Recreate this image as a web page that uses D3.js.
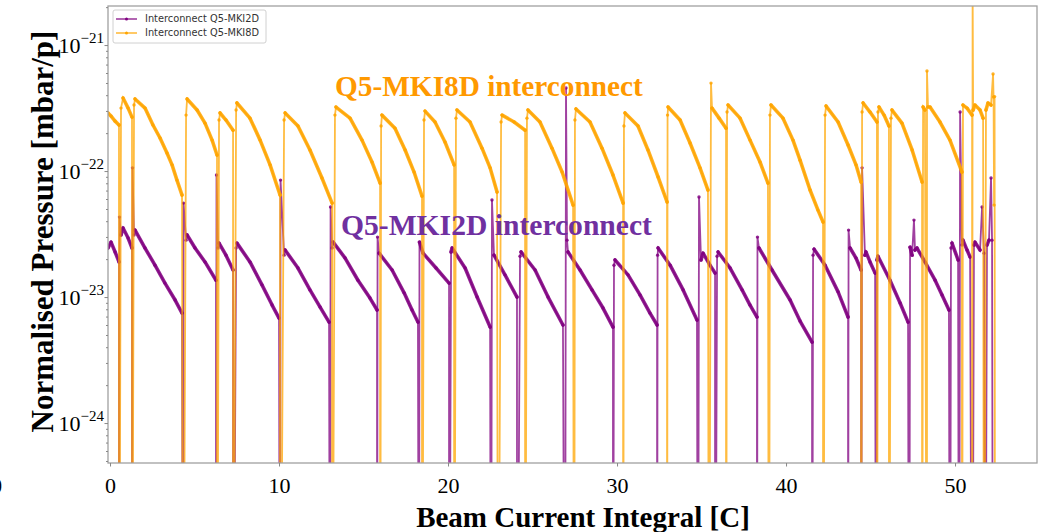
<!DOCTYPE html>
<html><head><meta charset="utf-8">
<script src="https://cdn.jsdelivr.net/npm/d3@7"></script>
<style>body{margin:0;background:#fff} svg{display:block}</style>
</head><body>
<svg id="c" width="1038" height="532"></svg>
<script>
// ---- data (x = beam current integral [C], y = normalised pressure [mbar/p]; 0 = no reading / beam dump) ----
const xTickValues = [0, 10, 20, 30, 40, 50];
const yTickExponents = [-21, -22, -23, -24];
const seriesNames = ["Interconnect Q5-MKI2D", "Interconnect Q5-MKI8D"];
const annotationNames = ["Q5-MKI8D interconnect", "Q5-MKI2D interconnect"];

const mki8d = [
 [-0.12,2.89e-22],[0.06,2.73e-22],[0.30,2.49e-22],[0.53,2.32e-22],[0.53,0],
 [0.65,3.16e-22],[0.77,3.80e-22],[1.07,3.16e-22],[1.30,2.68e-22],[1.30,0],
 [1.42,3.34e-22],[1.48,3.73e-22],[2.07,3.16e-22],[2.54,2.32e-22],[2.96,1.83e-22],[3.37,1.39e-22],[3.67,1.12e-22],[3.96,8.48e-23],[4.26,6.45e-23],[4.32,0],
 [4.50,2.78e-22],[4.56,3.73e-22],[5.15,3.05e-22],[5.62,2.40e-22],[6.04,1.76e-22],[6.33,1.34e-22],[6.33,0],
 [6.45,2.54e-22],[6.51,2.89e-22],[6.86,2.54e-22],[7.28,2.11e-22],[7.28,0],
 [7.46,3.05e-22],[7.51,3.47e-22],[8.28,2.63e-22],[8.88,1.76e-22],[9.47,1.12e-22],[10.06,6.45e-23],[10.06,0],
 [10.30,2.54e-22],[10.36,2.89e-22],[11.12,2.28e-22],[11.83,1.47e-22],[12.54,8.80e-23],[13.14,5.57e-23],[13.14,0],
 [13.31,2.78e-22],[13.37,3.22e-22],[14.20,2.63e-22],[14.91,1.76e-22],[15.50,1.18e-22],[15.98,8.03e-23],[15.98,0],
 [16.04,2.28e-22],[16.09,2.78e-22],[16.86,2.19e-22],[17.46,1.47e-22],[17.99,9.82e-23],[18.46,6.33e-23],[18.46,0],
 [18.58,2.54e-22],[18.64,2.99e-22],[19.23,2.45e-22],[19.82,1.70e-22],[20.36,1.12e-22],[20.36,0],
 [20.47,2.63e-22],[20.53,3.05e-22],[21.30,2.45e-22],[22.01,1.52e-22],[22.49,1.06e-22],[22.90,6.81e-23],[22.96,0],
 [23.14,2.45e-22],[23.20,2.78e-22],[23.91,2.45e-22],[24.56,2.11e-22],[24.56,0],
 [24.67,2.63e-22],[24.73,3.05e-22],[25.44,2.45e-22],[26.15,1.52e-22],[26.75,9.82e-23],[27.40,5.37e-23],[27.46,0],
 [27.51,2.54e-22],[27.57,3.11e-22],[28.40,2.45e-22],[29.11,1.52e-22],[29.76,9.30e-23],[30.36,5.57e-23],[30.36,0],
 [30.41,2.28e-22],[30.47,2.89e-22],[31.24,2.28e-22],[31.83,1.47e-22],[32.43,8.97e-23],[32.96,5.68e-23],[32.96,0],
 [32.99,2.78e-22],[33.02,3.22e-22],[33.73,2.54e-22],[34.32,1.67e-22],[34.91,1.06e-22],[35.38,7.07e-23],[35.44,0],
 [35.56,4.99e-22],[35.62,3.16e-22],[36.04,2.63e-22],[36.45,2.19e-22],[36.45,0],
 [36.51,2.94e-22],[36.57,3.34e-22],[37.28,2.63e-22],[37.87,1.76e-22],[38.46,1.18e-22],[38.93,8.03e-23],[38.99,0],
 [39.05,2.78e-22],[39.11,3.34e-22],[39.82,2.63e-22],[40.41,1.76e-22],[40.83,1.22e-22],[41.42,7.07e-23],[41.89,4.90e-23],[42.19,3.94e-23],[42.19,0],
 [42.31,2.78e-22],[42.37,3.28e-22],[43.08,2.45e-22],[43.67,1.61e-22],[44.14,1.12e-22],[44.44,8.18e-23],[44.44,0],
 [44.50,2.94e-22],[44.56,3.47e-22],[44.97,2.94e-22],[45.38,2.45e-22],[45.38,0],
 [45.44,2.94e-22],[45.50,3.22e-22],[45.80,2.78e-22],[46.09,2.28e-22],[46.09,0],
 [46.21,2.63e-22],[46.27,3.05e-22],[46.86,2.40e-22],[47.46,1.47e-22],[48.05,8.18e-23],[48.05,0],
 [48.11,3.22e-22],[48.22,3.05e-22],[48.34,0],[48.34,6.22e-22],[48.40,3.22e-22],[48.52,3.22e-22],[49.11,2.45e-22],[49.70,1.76e-22],[50.41,9.82e-23],[50.41,0],
 [50.47,3.34e-22],[50.71,3.16e-22],[51.01,2.78e-22],[51.01,0],[51.04,3.0e-21],[51.07,3.05e-22],[51.18,3.34e-22],[51.48,3.05e-22],[51.66,2.63e-22],[51.72,0],
 [51.83,3.05e-22],[51.95,3.47e-22],[52.13,3.34e-22],[52.25,5.89e-22],[52.28,3.87e-22],[52.31,5.37e-23],[52.34,3.9e-22],[52.37,0]
];

const mki2d = [
 [-0.12,2.45e-23],[0.06,2.73e-23],[0.30,2.28e-23],[0.53,1.90e-23],[0.53,0],
 [0.56,4.31e-23],[0.65,3.11e-23],[0.77,3.53e-23],[1.07,2.94e-23],[1.30,2.45e-23],[1.30,0],
 [1.33,1.06e-22],[1.42,3.11e-23],[1.48,3.40e-23],[2.07,2.45e-23],[2.66,1.79e-23],[3.25,1.29e-23],[3.85,9.47e-24],[4.26,7.46e-24],[4.32,0],
 [4.35,5.57e-23],[4.50,2.83e-23],[4.56,3.11e-23],[5.03,2.45e-23],[5.62,1.90e-23],[6.27,1.36e-23],[6.27,0],
 [6.30,9.30e-23],[6.39,2.45e-23],[6.45,2.68e-23],[6.86,2.15e-23],[7.28,1.64e-23],[7.28,0],
 [7.46,2.45e-23],[7.51,2.68e-23],[8.28,1.90e-23],[8.99,1.25e-23],[9.59,8.64e-24],[10.00,6.81e-24],[10.06,0],
 [10.09,8.48e-23],[10.30,2.15e-23],[10.36,2.36e-23],[11.12,1.70e-23],[11.83,1.14e-23],[12.43,8.33e-24],[12.96,6.33e-24],[13.02,0],
 [13.05,5.18e-23],[13.14,2.45e-23],[13.20,2.73e-23],[13.91,2.04e-23],[14.67,1.36e-23],[15.38,9.82e-24],[15.80,7.89e-24],[15.80,0],
 [15.83,2.99e-23],[15.92,2.23e-23],[16.69,1.64e-23],[17.40,1.08e-23],[17.87,7.89e-24],[18.22,6.33e-24],[18.28,0],
 [18.31,2.73e-23],[18.52,2.23e-23],[19.29,1.70e-23],[20.06,1.29e-23],[20.06,0],
 [20.18,2.28e-23],[20.24,2.45e-23],[21.01,1.70e-23],[21.72,1.00e-23],[22.49,5.78e-24],[22.54,0],
 [22.60,5.89e-23],[22.72,2.15e-23],[23.37,1.50e-23],[24.08,1.00e-23],[24.08,0],
 [24.26,2.11e-23],[24.32,2.28e-23],[25.15,1.64e-23],[25.92,1.00e-23],[26.80,6.00e-24],[26.92,0],
 [26.98,4.56e-22],[27.04,2.83e-23],[27.10,2.28e-23],[27.81,1.64e-23],[28.52,1.14e-23],[29.17,8.18e-24],[29.76,5.78e-24],[29.76,0],
 [29.82,1.79e-23],[29.88,1.97e-23],[30.65,1.50e-23],[31.36,1.04e-23],[31.95,7.46e-24],[32.37,6.00e-24],[32.37,0],
 [32.40,2.15e-23],[32.43,2.45e-23],[33.14,1.79e-23],[33.91,1.14e-23],[34.73,6.57e-24],[34.79,0],
 [34.85,6.22e-23],[34.97,1.97e-23],[35.09,2.23e-23],[35.50,1.79e-23],[35.80,1.55e-23],[35.80,0],
 [35.92,2.11e-23],[35.98,2.28e-23],[36.69,1.70e-23],[37.40,1.14e-23],[37.87,8.64e-24],[38.28,6.94e-24],[38.28,0],
 [38.31,2.99e-23],[38.40,2.45e-23],[39.17,1.64e-23],[40.24,9.47e-24],[40.83,6.45e-24],[41.54,4.39e-24],[41.54,0],
 [41.60,2.15e-23],[41.66,2.40e-23],[42.31,1.79e-23],[43.08,1.10e-23],[43.67,6.94e-24],[43.67,0],
 [43.70,3.40e-23],[43.79,2.45e-23],[44.14,2.04e-23],[44.44,1.64e-23],[44.44,0],
 [44.50,1.06e-22],[44.67,2.15e-23],[44.73,2.28e-23],[44.97,1.90e-23],[45.27,1.55e-23],[45.33,0],
 [45.38,1.97e-23],[45.44,2.11e-23],[46.15,1.36e-23],[46.75,8.97e-24],[47.22,6.33e-24],[47.28,0],
 [47.34,2.49e-23],[47.46,2.15e-23],[47.57,4.08e-23],[47.63,2.36e-23],[47.75,2.45e-23],[48.22,1.90e-23],[48.82,1.36e-23],[49.23,1.04e-23],[49.64,7.89e-24],[49.70,0],
 [49.76,2.45e-23],[49.82,2.68e-23],[50.18,1.97e-23],[50.24,0],
 [50.30,2.94e-22],[50.41,2.59e-23],[50.47,2.83e-23],[50.71,2.36e-23],[50.89,2.08e-23],[51.01,0],
 [51.12,2.59e-23],[51.18,2.73e-23],[51.48,2.36e-23],[51.60,5.18e-23],[51.72,2.23e-23],[51.78,0],
 [51.89,2.59e-23],[52.01,2.83e-23],[52.13,8.80e-23],[52.19,2.83e-23],[52.25,0]
];

// ---- layout ----
const plot = {left: 108, right: 1037, top: 6, bottom: 463};
const colors = {mki2d: "#800080", mki8d: "#FFA500", label8: "#FF9900", label2: "#7030A0"};
const serif = "Liberation Serif, Times New Roman, serif";

const svg = d3.select("#c");
const x = d3.scaleLinear().domain([-0.12, 54.85]).range([plot.left, plot.right]);
const y = d3.scaleLog().domain([Math.pow(10, -24.317), Math.pow(10, -20.69)]).range([plot.bottom, plot.top]);
const yv = v => y(Math.max(v, 1e-27));

svg.append("defs").append("clipPath").attr("id", "clip")
  .append("rect").attr("x", plot.left).attr("y", plot.top)
  .attr("width", plot.right - plot.left).attr("height", plot.bottom - plot.top);

const g = svg.append("g").attr("clip-path", "url(#clip)");
const line = d3.line().x(d => x(d[0])).y(d => yv(d[1]));

function drawSeries(data, color) {
  g.append("path").attr("d", line(data)).attr("fill", "none")
    .attr("stroke", color).attr("stroke-width", 1.8).attr("stroke-opacity", 0.75);
  // thicker trace along the continuous (marker-dense) stretches, not on spikes
  const runs = []; let cur = null;
  for (let i = 1; i < data.length; i++) {
    const a = data[i - 1], b = data[i];
    const dxp = x(b[0]) - x(a[0]);
    const dyp = Math.abs(yv(b[1]) - yv(a[1]));
    if (a[1] > 0 && b[1] > 0 && dxp > 1 && (dxp >= 6 || dyp / dxp < 4)) {
      if (!cur) { cur = [a]; runs.push(cur); }
      cur.push(b);
    } else cur = null;
  }
  runs.forEach(r => g.append("path").attr("d", line(r)).attr("fill", "none")
    .attr("stroke", color).attr("stroke-width", 3.6).attr("stroke-opacity", 0.85)
    .attr("stroke-linejoin", "round").attr("stroke-linecap", "round"));
  g.selectAll(null).data(data.filter(d => d[1] > 0)).enter().append("circle")
    .attr("cx", d => x(d[0])).attr("cy", d => yv(d[1])).attr("r", 1.7)
    .attr("fill", color).attr("fill-opacity", 0.85);
}
drawSeries(mki2d, colors.mki2d);
drawSeries(mki8d, colors.mki8d);

// ---- frame ----
svg.append("rect").attr("x", plot.left).attr("y", plot.top)
  .attr("width", plot.right - plot.left).attr("height", plot.bottom - plot.top)
  .attr("fill", "none").attr("stroke", "#a0a0a0").attr("stroke-width", 1.3);

// ---- x axis ----
const xAxis = d3.axisBottom(x).tickValues(xTickValues).tickSize(3.5).tickPadding(6).tickFormat(d3.format("d"));
const gx = svg.append("g").attr("transform", `translate(0,${plot.bottom})`).call(xAxis);
gx.select(".domain").remove();
gx.selectAll(".tick line").attr("stroke", "#888");
gx.selectAll(".tick text").attr("font-family", serif)
  .attr("font-size", 22).attr("fill", "#000").attr("dy", "0.95em");

// ---- y axis (log) ----
const yMinor = [];
for (let e = -25; e <= -20; e++) for (let m = 2; m <= 9; m++) {
  const v = m * Math.pow(10, e);
  if (v > y.domain()[0] && v < y.domain()[1]) yMinor.push(v);
}
const gym = svg.append("g").attr("transform", `translate(${plot.left},0)`)
  .call(d3.axisLeft(y).tickValues(yMinor).tickSize(2).tickFormat(""));
gym.select(".domain").remove();
gym.selectAll(".tick line").attr("stroke", "#888");

const yMajor = yTickExponents.map(e => Math.pow(10, e));
const gy = svg.append("g").attr("transform", `translate(${plot.left},0)`)
  .call(d3.axisLeft(y).tickValues(yMajor).tickSize(3.5).tickFormat(""));
gy.select(".domain").remove();
gy.selectAll(".tick line").attr("stroke", "#888");
gy.selectAll(".tick").each(function(d, i) {
  const t = d3.select(this).append("text").attr("x", -4).attr("y", 7)
    .attr("text-anchor", "end").attr("font-family", serif).attr("fill", "#000");
  t.append("tspan").attr("font-size", 22).text("10");
  t.append("tspan").attr("font-size", 15).attr("dy", -10).text("\u2212" + String(-yTickExponents[i]));
});

// ---- axis titles ----
svg.append("text").attr("transform", `translate(42,${(plot.top + plot.bottom) / 2 - 3}) rotate(-90)`)
  .attr("text-anchor", "middle").attr("font-family", serif)
  .attr("font-weight", "bold").attr("font-size", 31).attr("fill", "#000")
  .attr("dy", "0.35em").text("Normalised Pressure [mbar/p]");
svg.append("text").attr("x", 583).attr("y", 527).attr("text-anchor", "middle")
  .attr("font-family", serif).attr("font-weight", "bold")
  .attr("font-size", 29).attr("fill", "#000").text("Beam Current Integral [C]");
svg.append("text").attr("x", -8).attr("y", 493)
  .attr("font-family", serif).attr("font-size", 20).attr("fill", "#000").text("0");

// ---- annotations ----
svg.append("text").attr("x", 335).attr("y", 96).attr("font-family", serif)
  .attr("font-weight", "bold").attr("font-size", 29.3).attr("fill", colors.label8).text(annotationNames[0]);
svg.append("text").attr("x", 341).attr("y", 235).attr("font-family", serif)
  .attr("font-weight", "bold").attr("font-size", 29.6).attr("fill", colors.label2).text(annotationNames[1]);

// ---- legend ----
const lg = svg.append("g");
lg.append("rect").attr("x", 113).attr("y", 10).attr("width", 153).attr("height", 33).attr("rx", 2)
  .attr("fill", "#fff").attr("fill-opacity", 0.85).attr("stroke", "#d0d0d0").attr("stroke-width", 1);
[colors.mki2d, colors.mki8d].forEach((c, i) => {
  const yy = 19 + i * 14;
  lg.append("line").attr("x1", 116).attr("x2", 137).attr("y1", yy).attr("y2", yy)
    .attr("stroke", c).attr("stroke-width", 1.5).attr("stroke-opacity", 0.8);
  lg.append("circle").attr("cx", 126.5).attr("cy", yy).attr("r", 1.5).attr("fill", c);
  lg.append("text").attr("x", 145).attr("y", yy).attr("dy", "0.35em")
    .attr("font-family", "DejaVu Sans, sans-serif").attr("font-size", 9.8).attr("fill", "#333")
    .text(seriesNames[i]);
});
</script>
</body></html>
